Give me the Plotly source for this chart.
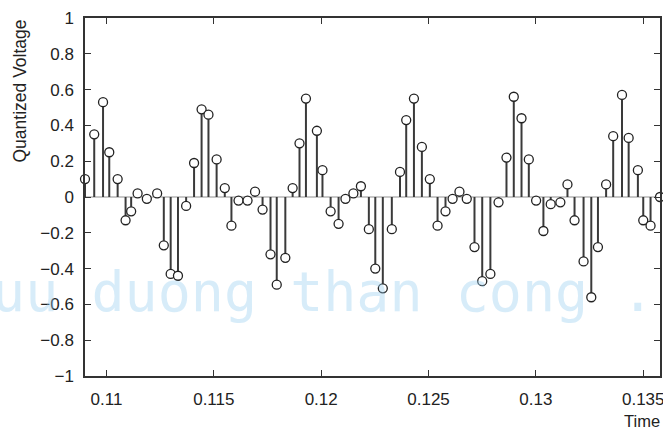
import plotly.graph_objects as go

# sample times (s) and quantized voltage values
times = [
    0.10900, 0.10943, 0.10984, 0.11013, 0.11052, 0.11089, 0.11115, 0.11145, 0.11188, 0.11236,
    0.11267, 0.11299, 0.11333, 0.11371, 0.11408, 0.11443, 0.11475, 0.11513, 0.11551, 0.11582,
    0.11615, 0.11657, 0.11692, 0.11727, 0.11764, 0.11793, 0.11833, 0.11867, 0.11899, 0.11929,
    0.11980, 0.12006, 0.12044, 0.12081, 0.12113, 0.12150, 0.12185, 0.12222, 0.12252, 0.12287,
    0.12329, 0.12367, 0.12396, 0.12432, 0.12469, 0.12506, 0.12542, 0.12579, 0.12612, 0.12644,
    0.12678, 0.12714, 0.12750, 0.12788, 0.12826, 0.12863, 0.12897, 0.12933, 0.12967, 0.13001,
    0.13035, 0.13069, 0.13114, 0.13147, 0.13180, 0.13222, 0.13258, 0.13289, 0.13327, 0.13360,
    0.13401, 0.13432, 0.13475, 0.13500, 0.13534, 0.13578,
]
voltages = [
    0.10, 0.35, 0.53, 0.25, 0.10, -0.13, -0.08, 0.02, -0.01, 0.02,
    -0.27, -0.43, -0.44, -0.05, 0.19, 0.49, 0.46, 0.21, 0.05, -0.16,
    -0.02, -0.02, 0.03, -0.07, -0.32, -0.49, -0.34, 0.05, 0.30, 0.55,
    0.37, 0.15, -0.08, -0.15, -0.01, 0.02, 0.06, -0.18, -0.40, -0.51,
    -0.18, 0.14, 0.43, 0.55, 0.28, 0.10, -0.16, -0.08, -0.01, 0.03,
    -0.01, -0.28, -0.47, -0.43, -0.03, 0.22, 0.56, 0.44, 0.21, -0.02,
    -0.19, -0.04, -0.03, 0.07, -0.13, -0.36, -0.56, -0.28, 0.07, 0.34,
    0.57, 0.33, 0.15, -0.13, -0.16, 0.00,
]
x_tick_vals = [0.11, 0.115, 0.12, 0.125, 0.13, 0.135]
x_tick_text = ["0.11", "0.115", "0.12", "0.125", "0.13", "0.135"]
y_tick_vals = [-1, -0.8, -0.6, -0.4, -0.2, 0, 0.2, 0.4, 0.6, 0.8, 1]
y_tick_text = ["\u22121", "\u22120.8", "\u22120.6", "\u22120.4", "\u22120.2", "0",
               "0.2", "0.4", "0.6", "0.8", "1"]

stem_x, stem_y = [], []
for t, v in zip(times, voltages):
    stem_x += [t, t, None]
    stem_y += [0, v, None]

FONT = "Liberation Sans, Arial, sans-serif"
fig = go.Figure()
fig.add_trace(go.Scatter(x=[times[0], times[-1]], y=[0, 0], mode="lines",
                         line=dict(color="#c8c8c8", width=2), hoverinfo="skip",
                         showlegend=False, cliponaxis=False))
fig.add_trace(go.Scatter(x=stem_x, y=stem_y, mode="lines",
                         line=dict(color="#3a3a3a", width=2), showlegend=False))
fig.add_trace(go.Scatter(x=times, y=voltages, mode="markers", cliponaxis=False,
                         marker=dict(symbol="circle", size=9, color="white",
                                     line=dict(color="#222", width=1.3)),
                         showlegend=False))

fig.add_annotation(text="cuu duong than cong . com", xref="paper", yref="y",
                   x=(373 - 84.5) / 576, xanchor="center", y=-0.53, yanchor="middle",
                   showarrow=False,
                   font=dict(family="DejaVu Sans Mono", size=55, color="rgba(150,205,240,0.38)"))

fig.add_annotation(text="Quantized Voltage", textangle=-90, xref="paper", yref="paper",
                   x=0, xanchor="left", y=1, yanchor="top", xshift=-78, yshift=0,
                   showarrow=False, font=dict(family=FONT, size=17.5, color="#222"))
fig.add_annotation(text="Time", xref="paper", yref="paper", x=1, xanchor="right",
                   y=0, yanchor="top", yshift=-34, xshift=2, showarrow=False,
                   font=dict(family=FONT, size=16.5, color="#222"))

axis_common = dict(showline=True, linecolor="#333", linewidth=1.5, mirror="ticks",
                   ticks="inside", ticklen=6, tickcolor="#333", tickwidth=1.2,
                   showgrid=False, zeroline=False, ticklabeloverflow="allow",
                   tickfont=dict(family=FONT, size=17, color="#222"))
fig.update_xaxes(range=[times[0], times[-1]], tickvals=x_tick_vals, ticktext=x_tick_text,
                 ticklabelstandoff=7, automargin=False, **axis_common)
fig.update_yaxes(range=[-1, 1], tickvals=y_tick_vals, ticktext=y_tick_text,
                 ticklabelstandoff=6, automargin=False, **axis_common)

fig.update_layout(width=663, height=427, margin=dict(l=84.5, r=2.5, t=18, b=51),
                  plot_bgcolor="white", paper_bgcolor="white")
fig.write_html("out.html", config={"displayModeBar": False},
               post_script="document.body.style.margin='0';")
